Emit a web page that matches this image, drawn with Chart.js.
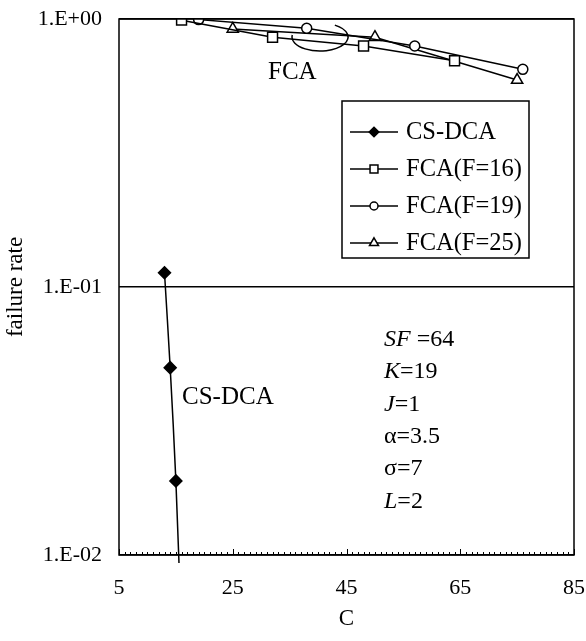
<!DOCTYPE html>
<html>
<head>
<meta charset="utf-8">
<script src="https://cdn.jsdelivr.net/npm/chart.js@4.4.1/dist/chart.umd.min.js"></script>
<style>
  html, body { margin: 0; padding: 0; background: #fff; }
  #wrap { width: 586px; height: 641px; }
</style>
</head>
<body>
<div id="wrap"><canvas id="chart" width="586" height="641"></canvas></div>
<script>
// failure rate vs C
const csDcaC = [13, 14, 15, 16];
const csDcaRate = [0.113, 0.050, 0.0189, 0.005];

const fca16C = [16, 32, 48, 64];
const fca16Rate = [0.99, 0.855, 0.793, 0.699];

const fca19C = [19, 38, 57, 76];
const fca19Rate = [0.995, 0.923, 0.793, 0.649];

const fca25C = [25, 50, 75];
const fca25Rate = [0.918, 0.855, 0.592];

const seriesNames = ['CS-DCA', 'FCA(F=16)', 'FCA(F=19)', 'FCA(F=25)'];

const yTickValues = [0.01, 0.1, 1];
const yTickLabels = ['1.E-02', '1.E-01', '1.E+00'];
const xLabelValues = [5, 25, 45, 65, 85];

const noteLines = [
    { it: 'SF', rest: ' =64' },
    { it: 'K', rest: '=19' },
    { it: 'J', rest: '=1' },
    { it: '', rest: 'α=3.5' },
    { it: '', rest: 'σ=7' },
    { it: 'L', rest: '=2' }
];

const SERIF = '"Liberation Serif", "Times New Roman", serif';

function toPoints(xs, ys) {
    return xs.map((x, i) => ({ x: x, y: ys[i] }));
}

function lineDataset(label, xs, ys, style, radius, fill) {
    return {
        label: label,
        data: toPoints(xs, ys),
        borderColor: '#000',
        borderWidth: 1.5,
        pointStyle: style,
        pointRadius: radius,
        pointBorderColor: '#000',
        pointBorderWidth: 1.5,
        pointBackgroundColor: fill,
        tension: 0,
        showLine: true
    };
}

const datasets = [
    Object.assign(lineDataset(seriesNames[0], csDcaC, csDcaRate, 'rectRot', 6, '#000'),
        { tension: 0.3, clip: { left: 0, top: 0, right: 0, bottom: 8 } }),
    lineDataset(seriesNames[1], fca16C, fca16Rate, 'rect', 7, '#fff'),
    lineDataset(seriesNames[2], fca19C, fca19Rate, 'circle', 5, '#fff'),
    lineDataset(seriesNames[3], fca25C, fca25Rate, 'triangle', 6.5, '#fff')
];

// pas de marge automatique autour des étiquettes
function fixScale(scale, size) {
    if (scale.isHorizontal()) scale.height = size; else scale.width = size;
    scale.paddingTop = 0;
    scale.paddingBottom = 0;
    scale.paddingLeft = 0;
    scale.paddingRight = 0;
}

// cadre, graduations internes, légende et annotations
const decorPlugin = {
    id: 'decor',
    afterDraw(chart) {
        const ctx = chart.ctx;
        const a = chart.chartArea;
        const xs = chart.scales.x;
        const H = Chart.helpers;

        ctx.save();
        ctx.strokeStyle = '#000';

        // graduations vers l'intérieur sur l'axe C
        ctx.lineWidth = 1;
        for (let v = xs.min; v <= xs.max; v++) {
            const px = Math.round(xs.getPixelForValue(v)) + 0.5;
            const len = xLabelValues.includes(v) ? 6 : 3;
            ctx.beginPath();
            ctx.moveTo(px, a.bottom);
            ctx.lineTo(px, a.bottom - len);
            ctx.stroke();
        }

        // cadre
        ctx.lineWidth = 1.5;
        ctx.strokeRect(a.left, a.top, a.right - a.left, a.bottom - a.top);

        // ellipse autour des courbes FCA
        ctx.lineWidth = 1.5;
        ctx.beginPath();
        ctx.ellipse(320, 37, 28, 14, 0, -58 * Math.PI / 180, 188 * Math.PI / 180);
        ctx.stroke();

        ctx.fillStyle = '#000';
        ctx.textBaseline = 'middle';
        ctx.textAlign = 'left';
        ctx.font = '25px ' + SERIF;
        ctx.fillText('FCA', 268, 72);
        ctx.fillText('CS-DCA', 182, 397);

        // paramètres
        ctx.textBaseline = 'alphabetic';
        noteLines.forEach((n, i) => {
            const y = 338 + i * 32.3 + 8;
            let x = 384;
            if (n.it) {
                ctx.font = 'italic 24px ' + SERIF;
                ctx.fillText(n.it, x, y);
                x += ctx.measureText(n.it).width;
            }
            ctx.font = '24px ' + SERIF;
            ctx.fillText(n.rest, x, y);
        });

        // légende
        ctx.fillStyle = '#fff';
        ctx.fillRect(342, 101, 187, 157);
        ctx.lineWidth = 1.5;
        ctx.strokeStyle = '#000';
        ctx.strokeRect(342, 101, 187, 157);
        chart.data.datasets.forEach((ds, i) => {
            const y = 132 + i * 37;
            ctx.lineWidth = 1.5;
            ctx.strokeStyle = '#000';
            ctx.beginPath();
            ctx.moveTo(350, y);
            ctx.lineTo(398, y);
            ctx.stroke();
            ctx.fillStyle = ds.pointBackgroundColor;
            H.drawPoint(ctx, {
                pointStyle: ds.pointStyle,
                radius: ds.pointRadius * 0.8,
                borderWidth: ds.pointBorderWidth,
                rotation: 0
            }, 374, y);
            ctx.fillStyle = '#000';
            ctx.font = '24.5px ' + SERIF;
            ctx.textBaseline = 'middle';
            ctx.fillText(ds.label, 406, y + 1);
        });

        ctx.restore();
    }
};

new Chart(document.getElementById('chart'), {
    type: 'scatter',
    data: { datasets: datasets },
    options: {
        responsive: false,
        animation: false,
        devicePixelRatio: 1,
        layout: { padding: { left: 0, right: 12, top: 19, bottom: 0 } },
        plugins: {
            legend: { display: false },
            tooltip: { enabled: false }
        },
        scales: {
            x: {
                type: 'linear',
                min: 5,
                max: 85,
                afterFit(scale) { fixScale(scale, 86); },
                ticks: {
                    stepSize: 1,
                    autoSkip: false,
                    maxRotation: 0,
                    padding: 20,
                    color: '#000',
                    font: { family: SERIF, size: 22 },
                    callback: v => xLabelValues.includes(v) ? String(v) : ''
                },
                grid: { display: false, drawTicks: false },
                border: { display: false },
                title: {
                    display: true,
                    text: 'C',
                    color: '#000',
                    font: { family: SERIF, size: 23 },
                    padding: { top: 0, bottom: 8 }
                }
            },
            y: {
                type: 'logarithmic',
                min: 0.01,
                max: 1,
                afterFit(scale) { fixScale(scale, 119); },
                afterBuildTicks(scale) {
                    scale.ticks = yTickValues.map(v => ({ value: v }));
                },
                ticks: {
                    padding: 17,
                    color: '#000',
                    font: { family: SERIF, size: 22 },
                    callback: v => yTickLabels[yTickValues.indexOf(v)]
                },
                grid: { color: '#000', lineWidth: 1.5, drawTicks: false },
                border: { display: false },
                title: {
                    display: true,
                    text: 'failure rate',
                    color: '#000',
                    font: { family: SERIF, size: 23 },
                    padding: { top: 2, bottom: 0 }
                }
            }
        }
    },
    plugins: [decorPlugin]
});
</script>
</body>
</html>
